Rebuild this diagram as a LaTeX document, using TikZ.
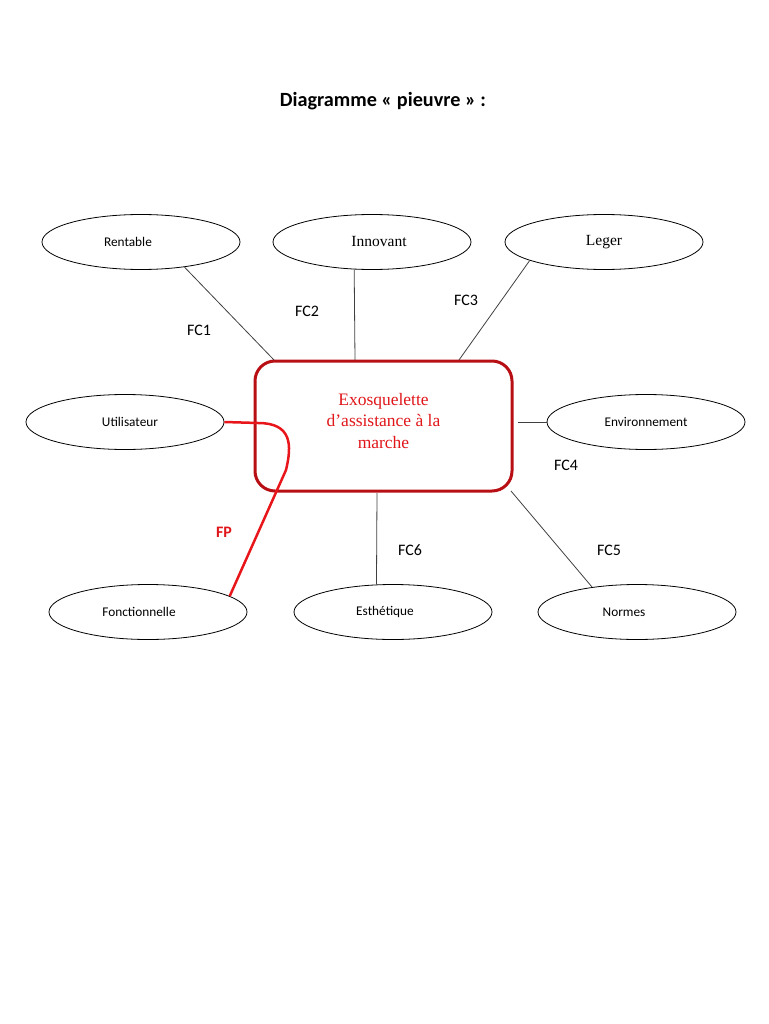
\documentclass[tikz,border=0pt]{standalone}
\usepackage{fontspec}
\setmainfont{Carlito}
\newfontfamily\serifA{Liberation Serif}
\usetikzlibrary{shapes.geometric}
\definecolor{boxred}{HTML}{B80F14}
\definecolor{txtred}{HTML}{E0161A}
\definecolor{fpred}{HTML}{E8161A}
\definecolor{linegray}{HTML}{404040}
% shift text left (\tl) or right (\tr) by #1 inside its node
\newcommand{\tleft}[2]{\hspace*{-#1}#2}
\newcommand{\tright}[2]{#2\hspace*{-#1}}
\tikzset{
  oval/.style={ellipse, draw=black, line width=0.8pt, minimum width=198pt, minimum height=55pt, inner sep=0pt, font=\fontsize{13.3}{15}\selectfont},
  ovalserif/.style={oval, font=\serifA\fontsize{15.5}{18}\selectfont},
  centerbox/.style={draw=boxred, line width=3pt, rounded corners=20pt, minimum width=257pt, minimum height=130pt, inner sep=0pt},
  boxtext/.style={align=center, text=txtred, inner sep=0pt, font=\serifA\fontsize{17.5}{21.3}\selectfont},
  link/.style={draw=linegray, line width=0.8pt},
  fclabel/.style={font=\fontsize{16}{18}\selectfont, inner sep=0pt},
  fplink/.style={draw=fpred, line width=2.5pt},
}
\begin{document}
\begin{tikzpicture}[x=1pt,y=-1pt]
\useasboundingbox (0,0) rectangle (768,1024);
\node[font=\bfseries\fontsize{20.2}{22}\selectfont] (title) at (383,101) {Diagramme « pieuvre » :};

\node[centerbox] (box) at (383.5,426) {};
\node[boxtext] (boxlabel) at (383.5,421) {Exosquelette\\d’assistance à la\\marche};

\node[oval] (rentable) at (141,242) {\tleft{26pt}{Rentable}};
\node[ovalserif] (innovant) at (372,242) {\tright{14pt}{Innovant}};
\node[ovalserif] (leger) at (604,242) {Leger};
\node[oval] (utilisateur) at (125,422) {\tright{10pt}{Utilisateur}};
\node[oval] (environnement) at (646,422) {Environnement};
\node[oval] (fonctionnelle) at (148,612) {\tleft{18pt}{Fonctionnelle}};
\node[oval] (esthetique) at (393,612) {\tleft{16pt}{Esthétique}};
\node[oval] (normes) at (637,612) {\tleft{26pt}{Normes}};

\coordinate (b1) at (274,360);
\coordinate (b2) at (355,360);
\coordinate (b3) at (459,360);
\coordinate (b4) at (518,422);
\coordinate (b5) at (511,491);
\coordinate (b6) at (377,493);

\draw[link] (rentable.-30) -- (b1);
\draw[link] (innovant.237) -- (b2);
\draw[link] (leger.194) -- (b3);
\draw[link] (environnement.west) -- (b4);
\draw[link] (normes.151) -- (b5);
\draw[link] (esthetique.121) -- (b6);

\draw[fplink] (utilisateur.east) -- (258,423) .. controls (292,423) and (292,445) .. (286,470) -- (fonctionnelle.11);

\node[fclabel] (fc1) at (199,330) {FC1};
\node[fclabel] (fc2) at (307,311) {FC2};
\node[fclabel] (fc3) at (466,300) {FC3};
\node[fclabel] (fc4) at (566,465) {FC4};
\node[fclabel] (fc5) at (609,550) {FC5};
\node[fclabel] (fc6) at (410,550) {FC6};
\node[fclabel, text=txtred, font=\bfseries\fontsize{16}{18}\selectfont] (fp) at (224,532) {FP};
\end{tikzpicture}
\end{document}
